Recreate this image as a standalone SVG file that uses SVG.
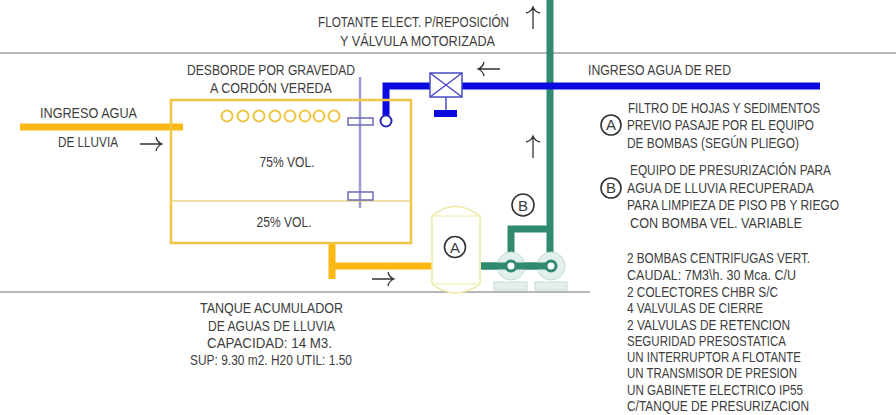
<svg xmlns="http://www.w3.org/2000/svg" width="896" height="415" viewBox="0 0 896 415">
<style>
text{font-family:"Liberation Sans",Arial,sans-serif;font-size:15px;fill:#3d3d3d}
.m{text-anchor:middle}
.l{fill:none;stroke:#a0a0a0;stroke-width:1.5}
.y{fill:none;stroke:#f0c544;stroke-width:2.5}
.o{fill:none;stroke:#fdb913;stroke-width:7}
.b{fill:none;stroke:#0a0ae0;stroke-width:7}
.g{fill:none;stroke:#2f8a70;stroke-width:7}
.a{fill:none;stroke:#333;stroke-width:1.3}
.c{fill:#fff;stroke:#333;stroke-width:1.6}
.p{fill:#e2efec;stroke:#c4dbd5;stroke-width:1}
.v{fill:none;stroke:#6a6ab8;stroke-width:1.5}
</style>
<defs>
<path id="ar" d="M-12 0H10M4-7Q5-2 10 0Q5 2 4 7" class="a"/>
</defs>
<g id="connectors">
<path class="l" d="M0 53H896M0 292H590"/>
<path class="g" d="M550 0V266M511 266V229H550M481 266H551"/>
<path class="b" d="M820 86H462M430 86H386V116"/>
<path class="o" d="M20 127H183"/>
<path class="o" d="M332 243V279M332 266H432"/>
<path d="M360 77V208" fill="none" stroke="#9c9cd0" stroke-width="2.5"/>
<use href="#ar" transform="translate(533 17) rotate(-90)"/>
<use href="#ar" transform="translate(488 69) rotate(180)"/>
<use href="#ar" transform="translate(533 146) rotate(-90)"/>
<use href="#ar" transform="translate(152 144)"/>
<use href="#ar" transform="translate(384 279)"/>
</g>
<g id="tank">
<rect class="y" x="171" y="100" width="240" height="143"/>
<path d="M171 201H411" fill="none" stroke="#e8d48a" stroke-width="1.5"/>
<g class="y" style="stroke-width:2">
<circle cx="227" cy="116" r="5.5"/><circle cx="243" cy="116" r="5.5"/><circle cx="259" cy="116" r="5.5"/><circle cx="275" cy="116" r="5.5"/><circle cx="290" cy="116" r="5.5"/><circle cx="305" cy="116" r="5.5"/><circle cx="319" cy="116" r="5.5"/><circle cx="334" cy="116" r="5.5"/>
</g>
<rect class="v" x="348" y="118" width="25" height="7"/>
<rect class="v" x="348" y="192" width="25" height="8"/>
<text class="m" x="287" y="167" textLength="55" lengthAdjust="spacingAndGlyphs">75% VOL.</text>
<text class="m" x="284" y="227" textLength="55" lengthAdjust="spacingAndGlyphs">25% VOL.</text>
</g>
<g id="valve">
<rect x="430" y="73" width="32" height="24" fill="#fff" stroke="#4a4ac8" stroke-width="1.5"/>
<path d="M430 73L462 97M462 73L430 97M446 97V110" fill="none" stroke="#4a4ac8" stroke-width="1.5"/>
<rect x="434" y="110" width="23" height="7" fill="#0a0ae0"/>
<circle cx="386" cy="121" r="5.5" fill="#fff" stroke="#2a2ab8" stroke-width="2"/>
</g>
<g id="filter">
<path d="M432 216Q455 197 480 216V284Q455 302 432 284Z" fill="#fff" stroke="#efe8a0" stroke-width="1.5"/>
<path d="M432 216H480M432 284H480" stroke="#efe8a0" stroke-width="1"/>
<circle class="c" cx="455" cy="247" r="10.5"/>
<text class="m" x="455" y="252.500">A</text>
</g>
<g id="pumps">
<rect class="p" x="494" y="282" width="33" height="8"/>
<rect class="p" x="535" y="282" width="32" height="8"/>
<circle class="p" cx="511" cy="266" r="14"/>
<circle class="p" cx="551" cy="266" r="14"/>
<path class="g" d="M481 266H551"/>
<circle cx="511" cy="266" r="5" fill="#fff" stroke="#2f8a70" stroke-width="3"/>
<circle cx="551" cy="266" r="5" fill="#fff" stroke="#2f8a70" stroke-width="3"/>
<circle class="c" cx="523" cy="205" r="11"/>
<text class="m" x="523" y="210.500">B</text>
</g>
<g id="labels">
<text x="318" y="27" textLength="191" lengthAdjust="spacingAndGlyphs">FLOTANTE ELECT. P/REPOSICIÓN</text>
<text x="340" y="46" textLength="155" lengthAdjust="spacingAndGlyphs">Y VÁLVULA MOTORIZADA</text>
<text x="187" y="75" textLength="168" lengthAdjust="spacingAndGlyphs">DESBORDE POR GRAVEDAD</text>
<text x="210" y="93" textLength="122" lengthAdjust="spacingAndGlyphs">A CORDÓN VEREDA</text>
<text x="588" y="75" textLength="143" lengthAdjust="spacingAndGlyphs">INGRESO AGUA DE RED</text>
<text x="40" y="118" textLength="97" lengthAdjust="spacingAndGlyphs">INGRESO AGUA</text>
<text x="58" y="147" textLength="60" lengthAdjust="spacingAndGlyphs">DE LLUVIA</text>
<text x="200" y="313" textLength="143" lengthAdjust="spacingAndGlyphs">TANQUE ACUMULADOR</text>
<text x="208" y="331" textLength="127" lengthAdjust="spacingAndGlyphs">DE AGUAS DE LLUVIA</text>
<text x="207" y="348" textLength="125" lengthAdjust="spacingAndGlyphs">CAPACIDAD: 14 M3.</text>
<text x="190" y="365" textLength="162" lengthAdjust="spacingAndGlyphs">SUP: 9.30 m2. H20 UTIL: 1.50</text>
</g>
<g id="notes">
<circle class="c" cx="611" cy="125" r="10"/>
<text class="m" x="611" y="130">A</text>
<circle class="c" cx="611" cy="188" r="10"/>
<text class="m" x="611" y="193">B</text>
<text x="628" y="113" textLength="192" lengthAdjust="spacingAndGlyphs">FILTRO DE HOJAS Y SEDIMENTOS</text>
<text x="627" y="130" textLength="187" lengthAdjust="spacingAndGlyphs">PREVIO PASAJE POR EL EQUIPO</text>
<text x="627" y="148" textLength="172" lengthAdjust="spacingAndGlyphs">DE BOMBAS (SEGÚN PLIEGO)</text>
<text x="630" y="175" textLength="201" lengthAdjust="spacingAndGlyphs">EQUIPO DE PRESURIZACIÓN PARA</text>
<text x="627" y="193" textLength="187" lengthAdjust="spacingAndGlyphs">AGUA DE LLUVIA RECUPERADA</text>
<text x="627" y="210" textLength="212" lengthAdjust="spacingAndGlyphs" style="font-size:14px">PARA LIMPIEZA DE PISO PB Y RIEGO</text>
<text x="630" y="228" textLength="172" lengthAdjust="spacingAndGlyphs">CON BOMBA VEL. VARIABLE</text>
<text x="627" y="263" textLength="183" lengthAdjust="spacingAndGlyphs">2 BOMBAS CENTRIFUGAS VERT.</text>
<text x="627" y="280" textLength="169" lengthAdjust="spacingAndGlyphs">CAUDAL: 7M3\h. 30 Mca. C/U</text>
<text x="627" y="297" textLength="151" lengthAdjust="spacingAndGlyphs">2 COLECTORES CHBR S/C</text>
<text x="627" y="313" textLength="136" lengthAdjust="spacingAndGlyphs">4 VALVULAS DE CIERRE</text>
<text x="627" y="330" textLength="163" lengthAdjust="spacingAndGlyphs">2 VALVULAS DE RETENCION</text>
<text x="627" y="346" textLength="159" lengthAdjust="spacingAndGlyphs">SEGURIDAD PRESOSTATICA</text>
<text x="627" y="362" textLength="174" lengthAdjust="spacingAndGlyphs">UN INTERRUPTOR A FLOTANTE</text>
<text x="627" y="378" textLength="170" lengthAdjust="spacingAndGlyphs">UN TRANSMISOR DE PRESION</text>
<text x="627" y="395" textLength="176" lengthAdjust="spacingAndGlyphs">UN GABINETE ELECTRICO IP55</text>
<text x="627" y="411" textLength="182" lengthAdjust="spacingAndGlyphs">C/TANQUE DE PRESURIZACION</text>
</g>
</svg>
